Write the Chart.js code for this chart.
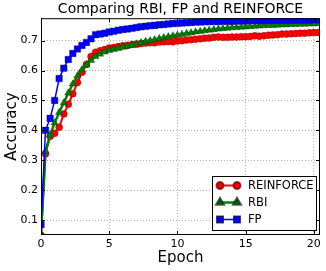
<!DOCTYPE html>
<html>
<head>
<meta charset="utf-8">
<script src="https://cdn.jsdelivr.net/npm/chart.js@4.4.1/dist/chart.umd.min.js"></script>
<style>
  html, body { margin: 0; padding: 0; background: #fff; }
</style>
</head>
<body>
<canvas id="chart" width="326" height="271"></canvas>
<script>
// x positions (epochs), three evaluations per epoch
const epochs = [0, 0.33, 0.67, 1, 1.33, 1.67, 2, 2.33, 2.67, 3, 3.33, 3.67, 4, 4.33, 4.67, 5, 5.33, 5.67,
    6, 6.33, 6.67, 7, 7.33, 7.67, 8, 8.33, 8.67, 9, 9.33, 9.67, 10, 10.33, 10.67, 11, 11.33, 11.67,
    12, 12.33, 12.67, 13, 13.33, 13.67, 14, 14.33, 14.67, 15, 15.33, 15.67, 16, 16.33, 16.67,
    17, 17.33, 17.67, 18, 18.33, 18.67, 19, 19.33, 19.67, 20, 20.33];

const reinforce = [0.05, 0.322, 0.38, 0.39, 0.41, 0.455, 0.487, 0.522, 0.56, 0.594,
    0.62, 0.647, 0.661, 0.666, 0.670, 0.675, 0.677, 0.680, 0.683, 0.684,
    0.687, 0.688, 0.690, 0.692, 0.693, 0.693, 0.695, 0.696, 0.697, 0.696,
    0.699, 0.700, 0.702, 0.703, 0.705, 0.706, 0.708, 0.709, 0.711, 0.712,
    0.711, 0.711, 0.712, 0.712, 0.713, 0.713, 0.714, 0.716, 0.715, 0.716,
    0.718, 0.719, 0.720, 0.722, 0.722, 0.723, 0.724, 0.725, 0.725, 0.726,
    0.727, 0.727];

const rbi = [0.05, 0.33, 0.385, 0.425, 0.46, 0.492, 0.525, 0.555, 0.582, 0.603,
    0.62, 0.634, 0.647, 0.655, 0.662, 0.667, 0.671, 0.674, 0.678, 0.682,
    0.685, 0.689, 0.693, 0.697, 0.700, 0.703, 0.707, 0.710, 0.713, 0.716,
    0.718, 0.721, 0.724, 0.726, 0.729, 0.731, 0.733, 0.735, 0.737, 0.739,
    0.740, 0.742, 0.743, 0.744, 0.745, 0.746, 0.747, 0.748, 0.749, 0.750,
    0.751, 0.751, 0.752, 0.753, 0.753, 0.754, 0.754, 0.755, 0.755, 0.756,
    0.756, 0.757];

const fp = [0.085, 0.40, 0.44, 0.50, 0.573, 0.608, 0.637, 0.657, 0.672, 0.684,
    0.694, 0.706, 0.72, 0.722, 0.725, 0.729, 0.731, 0.735, 0.737, 0.739,
    0.741, 0.744, 0.746, 0.748, 0.750, 0.751, 0.753, 0.754, 0.756, 0.757,
    0.758, 0.759, 0.760, 0.761, 0.762, 0.762, 0.763, 0.763, 0.764, 0.764,
    0.765, 0.765, 0.765, 0.766, 0.766, 0.766, 0.767, 0.767, 0.767, 0.767,
    0.768, 0.768, 0.768, 0.768, 0.768, 0.769, 0.769, 0.769, 0.769, 0.769,
    0.770, 0.770];

const xTicks = [0, 5, 10, 15, 20];
const yTicks = [0.1, 0.2, 0.3, 0.4, 0.5, 0.6, 0.7];

const FONT = 'DejaVu Sans';

function toPoints(values) {
    return values.map((v, i) => ({ x: epochs[i], y: v }));
}

// frame, inward tick marks and the legend box (matplotlib look)
const framePlugin = {
    id: 'frame',
    afterDatasetsDraw(chart) {
        const { ctx, chartArea: a, scales: { x, y } } = chart;
        ctx.save();
        ctx.strokeStyle = '#000';
        ctx.lineWidth = 1;
        ctx.strokeRect(a.left + 0.5, a.top + 0.5, a.width - 1, a.height - 1);

        ctx.beginPath();
        xTicks.forEach(v => {
            const px = Math.round(x.getPixelForValue(v)) + 0.5;
            ctx.moveTo(px, a.bottom); ctx.lineTo(px, a.bottom - 4);
            ctx.moveTo(px, a.top); ctx.lineTo(px, a.top + 4);
        });
        yTicks.forEach(v => {
            const py = Math.round(y.getPixelForValue(v)) + 0.5;
            ctx.moveTo(a.left, py); ctx.lineTo(a.left + 4, py);
            ctx.moveTo(a.right, py); ctx.lineTo(a.right - 4, py);
        });
        ctx.stroke();

        // legend
        const w = 104, h = 54;
        const bx = a.right - 4 - w, by = a.bottom - 5 - h;
        ctx.fillStyle = '#fff';
        ctx.fillRect(bx + 0.5, by + 0.5, w, h);
        ctx.strokeRect(bx + 0.5, by + 0.5, w, h);

        const order = ['REINFORCE', 'RBI', 'FP'];
        ctx.font = '11.5px "' + FONT + '"';
        ctx.textBaseline = 'middle';
        order.forEach((name, i) => {
            const ds = chart.data.datasets.find(d => d.label === name);
            const ry = by + 9.5 + i * 17;
            const x0 = bx + 8, x1 = bx + 25;
            ctx.strokeStyle = ds.borderColor;
            ctx.lineWidth = ds.borderWidth;
            ctx.beginPath();
            ctx.moveTo(x0, ry); ctx.lineTo(x1, ry);
            ctx.stroke();
            ctx.fillStyle = ds.pointBackgroundColor;
            ctx.strokeStyle = ds.pointBorderColor;
            [x0, x1].forEach(px => {
                Chart.helpers.drawPoint(ctx, {
                    pointStyle: ds.pointStyle, radius: ds.pointRadius,
                    rotation: 0, borderWidth: ds.pointBorderWidth
                }, px, ry);
            });
            ctx.fillStyle = '#000';
            ctx.fillText(name, bx + 36, ry + 0.5);
        });
        ctx.restore();
    }
};

new Chart(document.getElementById('chart'), {
    type: 'line',
    data: {
        datasets: [
            {
                label: 'FP',
                data: toPoints(fp),
                borderColor: '#0000ff',
                borderWidth: 1.5,
                pointStyle: 'rect',
                pointRadius: 4.6,
                pointBackgroundColor: '#0000ff',
                pointBorderColor: 'rgba(0,0,60,0.7)',
                pointBorderWidth: 0.5,
                order: 0
            },
            {
                label: 'RBI',
                data: toPoints(rbi),
                borderColor: '#008000',
                borderWidth: 2.5,
                pointStyle: 'triangle',
                pointRadius: 4.2,
                pointBackgroundColor: '#008000',
                pointBorderColor: 'rgba(0,40,0,0.7)',
                pointBorderWidth: 0.5,
                order: 1
            },
            {
                label: 'REINFORCE',
                data: toPoints(reinforce),
                borderColor: '#ff0000',
                borderWidth: 2,
                pointStyle: 'circle',
                pointRadius: 3.5,
                pointBackgroundColor: '#ff0000',
                pointBorderColor: 'rgba(90,0,0,0.7)',
                pointBorderWidth: 0.5,
                order: 2
            }
        ]
    },
    options: {
        responsive: false,
        animation: false,
        layout: { padding: { left: 0, right: 6, top: 0, bottom: 0 } },
        plugins: {
            legend: { display: false },
            tooltip: { enabled: false },
            title: {
                display: true,
                text: 'Comparing RBI, FP and REINFORCE',
                fullSize: false,
                color: '#000',
                font: { family: FONT, size: 14, weight: 'normal', lineHeight: 1.3 },
                padding: { top: 0, bottom: 0 }
            }
        },
        scales: {
            x: {
                type: 'linear',
                min: 0,
                max: 20.45,
                afterBuildTicks: axis => { axis.ticks = xTicks.map(v => ({ value: v })); },
                afterFit: scale => { scale.height = 36; },
                grid: { color: 'rgba(0,0,0,0.38)', lineWidth: 0.8, drawTicks: false },
                border: { display: false, dash: [1, 2] },
                ticks: {
                    color: '#000',
                    padding: 3,
                    maxRotation: 0,
                    font: { family: FONT, size: 11 },
                    callback: v => String(v)
                },
                title: {
                    display: true,
                    text: 'Epoch',
                    color: '#000',
                    font: { family: FONT, size: 15 },
                    padding: { top: 0, bottom: 4 }
                }
            },
            y: {
                type: 'linear',
                min: 0.05,
                max: 0.775,
                afterBuildTicks: axis => { axis.ticks = yTicks.map(v => ({ value: v })); },
                afterFit: scale => { scale.width = 41; },
                grid: { color: 'rgba(0,0,0,0.38)', lineWidth: 0.8, drawTicks: false },
                border: { display: false, dash: [1, 2] },
                ticks: {
                    color: '#000',
                    padding: 3,
                    font: { family: FONT, size: 11 },
                    callback: v => v.toFixed(1)
                },
                title: {
                    display: true,
                    text: 'Accuracy',
                    color: '#000',
                    font: { family: FONT, size: 15 },
                    padding: { top: 3, bottom: 0 }
                }
            }
        }
    },
    plugins: [framePlugin]
});
</script>
</body>
</html>
